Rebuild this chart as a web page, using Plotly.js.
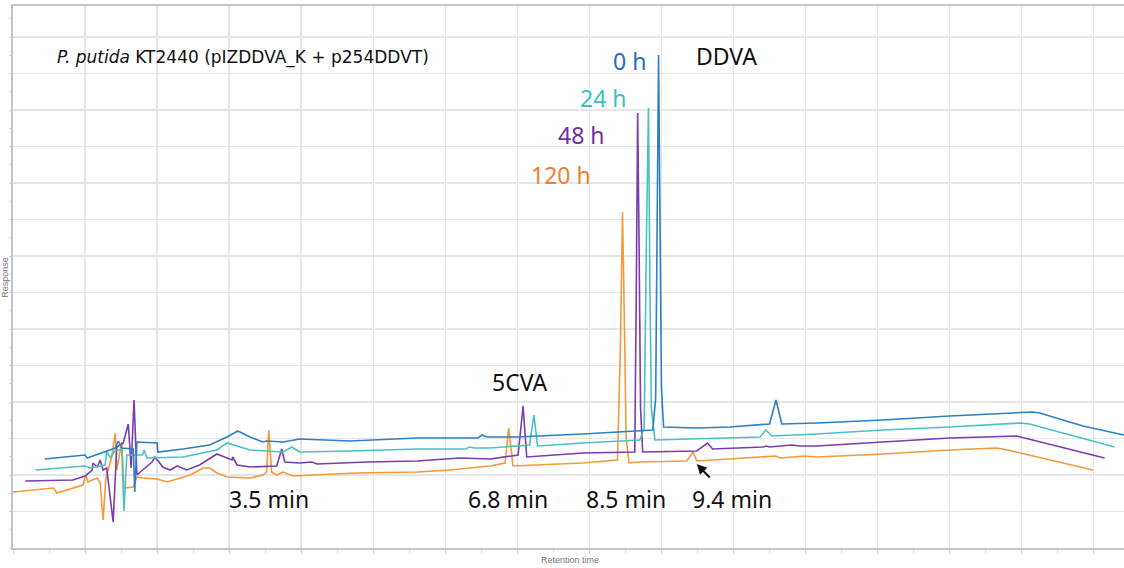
<!DOCTYPE html>
<html>
<head>
<meta charset="utf-8">
<script src="https://cdn.plot.ly/plotly-3.0.1.min.js"></script>
<style>html,body{margin:0;padding:0;background:#fff;}#chart{width:1124px;height:568px;}</style>
</head>
<body>
<div id="chart"></div>
<script>
// Series names (sampling times)
const seriesNames = ['0 h', '24 h', '48 h', '120 h'];

// Retention time (min) and response (a.u.)
const time0h = [0.44,1.00,1.03,1.30,1.42,1.46,1.51,1.67,1.69,1.72,2.00,2.01,2.36,2.73,2.97,3.12,3.29,3.47,3.52,3.75,3.98,4.68,5.61,6.45,6.51,6.58,6.99,7.91,8.88,8.92,8.94,8.96,8.98,9.00,9.03,9.49,9.95,10.50,10.59,10.67,11.16,12.07,13.00,13.93,14.15,14.25,14.85,15.42];
const resp0h = [89,93,90,97,100,107,100,99,56,106,105,96,99,103,111,117,111,106,107,106,109,107,110,110,113,111,111,114,118,150,300,493,330,160,121,120,121,124,148,124,125,128,132,135,136,135,122,113];

const time24h = [0.31,1.00,1.07,1.28,1.30,1.35,1.42,1.51,1.54,1.58,1.80,1.82,1.86,2.36,2.83,2.97,3.29,3.75,3.87,3.98,4.68,5.61,6.28,6.34,6.40,6.62,7.17,7.23,7.28,7.91,8.70,8.76,8.79,8.82,8.84,8.86,8.91,9.49,10.37,10.45,10.53,11.16,12.07,13.00,13.97,14.11,15.29];
const resp24h = [78,82,80,83,97,90,98,98,37,93,93,98,90,91,98,105,98,96,101,96,97,99,99,101,100,100,103,133,102,105,108,120,300,440,260,140,108,109,111,118,112,114,118,121,125,124,101];

const time48h = [0.17,0.83,1.00,1.10,1.11,1.17,1.21,1.25,1.30,1.39,1.44,1.53,1.60,1.64,1.68,1.72,1.80,1.93,1.97,2.04,2.08,2.18,2.28,2.41,2.59,2.83,2.97,3.04,3.05,3.11,3.29,3.66,3.73,3.77,3.98,4.15,4.22,4.91,5.61,6.20,6.62,7.01,7.08,7.13,7.91,8.63,8.65,8.67,8.69,8.71,8.74,9.49,9.64,9.71,10.41,10.46,10.50,10.81,10.92,11.16,12.07,13.00,13.93,15.15];
const resp48h = [67,68,72,78,85,81,88,78,80,26,101,105,124,80,148,73,78,86,91,85,81,78,82,78,83,94,90,88,91,83,81,82,99,86,85,86,84,86,87,90,89,93,142,91,95,96,250,435,300,140,96,97,105,99,101,102,101,103,102,102,106,110,112,90];

const time120h = [0.00,0.56,0.61,0.97,1.01,1.04,1.17,1.21,1.25,1.29,1.37,1.42,1.44,1.51,1.54,1.67,1.72,1.80,2.00,2.14,2.46,2.64,2.73,2.83,2.97,3.29,3.47,3.52,3.55,3.59,3.66,3.75,3.89,4.22,4.77,5.61,6.06,6.62,6.83,6.88,6.94,7.91,8.39,8.43,8.46,8.48,8.51,8.55,8.70,9.35,9.44,9.49,9.95,10.59,10.65,10.99,11.16,12.07,13.00,13.65,13.74,14.99];
const resp120h = [56,60,55,63,73,66,70,65,28,70,91,115,78,106,60,61,71,70,69,66,73,80,80,75,71,70,73,76,118,76,73,76,72,73,75,76,78,82,85,120,82,85,88,200,336,250,110,85,86,87,96,87,89,92,90,92,91,94,98,100,99,78];

const lineColors = ['#2b80c6', '#4ac2c2', '#7a3cae', '#f5993a'];
const seriesTimes = [time0h, time24h, time48h, time120h];
const seriesResp = [resp0h, resp24h, resp48h, resp120h];

const traces = [3, 2, 1, 0].map(i => ({
  type: 'scatter', mode: 'lines', name: seriesNames[i],
  x: seriesTimes[i], y: seriesResp[i],
  line: {color: lineColors[i], width: 1.6},
  hoverinfo: 'skip'
}));

const bigFont = {family: 'Noto Sans, sans-serif', size: 23, color: '#111'};
const ann = [
  {x: 0.58, y: 491, xanchor: 'left', yanchor: 'middle', showarrow: false,
   text: '<i>P. putida</i> KT2440 (pIZDDVA_K + p254DDVT)',
   font: {family: 'DejaVu Sans, sans-serif', size: 17, color: '#111'}},
  {x: 8.82, y: 487, xanchor: 'right', yanchor: 'middle', showarrow: false, text: '0 h', font: Object.assign({}, bigFont, {color: '#1f6fbd'})},
  {x: 9.45, y: 492, xanchor: 'left', yanchor: 'middle', showarrow: false, text: 'DDVA', font: bigFont},
  {x: 8.55, y: 450, xanchor: 'right', yanchor: 'middle', showarrow: false, text: '24 h', font: Object.assign({}, bigFont, {color: '#3fc0c0'})},
  {x: 8.24, y: 413, xanchor: 'right', yanchor: 'middle', showarrow: false, text: '48 h', font: Object.assign({}, bigFont, {color: '#7030a0'})},
  {x: 8.05, y: 373, xanchor: 'right', yanchor: 'middle', showarrow: false, text: '120 h', font: Object.assign({}, bigFont, {color: '#ee7f33'})},
  {x: 7.03, y: 166, xanchor: 'center', yanchor: 'middle', showarrow: false, text: '5CVA', font: bigFont},
  {x: 3.55, y: 49, xanchor: 'center', yanchor: 'middle', showarrow: false, text: '3.5 min', font: bigFont},
  {x: 6.87, y: 49, xanchor: 'center', yanchor: 'middle', showarrow: false, text: '6.8 min', font: bigFont},
  {x: 8.51, y: 49, xanchor: 'center', yanchor: 'middle', showarrow: false, text: '8.5 min', font: bigFont},
  {x: 9.98, y: 49, xanchor: 'center', yanchor: 'middle', showarrow: false, text: '9.4 min', font: bigFont},
  {x: 9.49, y: 84, ax: 9.69, ay: 69, axref: 'x', ayref: 'y', text: '', showarrow: true,
   arrowhead: 2, arrowsize: 1, arrowwidth: 2, arrowcolor: '#111'},
  {xref: 'paper', yref: 'paper', x: 0.501, y: -0.022, xanchor: 'center', yanchor: 'middle', showarrow: false,
   text: 'Retention time', font: {family: 'Liberation Sans, Arial, sans-serif', size: 9, color: '#777'}},
  {xref: 'paper', yref: 'paper', x: -0.0075, y: 0.50, xanchor: 'center', yanchor: 'middle', showarrow: false, textangle: -90,
   text: 'Response', font: {family: 'Liberation Sans, Arial, sans-serif', size: 9, color: '#777'}}
];

const layout = {
  width: 1124, height: 568,
  margin: {l: 13, r: 0, t: 6, b: 20, pad: 0},
  paper_bgcolor: '#fff', plot_bgcolor: '#fff',
  showlegend: false,
  xaxis: {
    range: [0, 15.42], tick0: 0, dtick: 1, showticklabels: false,
    showgrid: true, gridcolor: '#e6e6e9', gridwidth: 1.5, zeroline: false,
    showline: true, linecolor: '#c4c2cc', linewidth: 2, mirror: true,
    ticks: 'outside', ticklen: 4, tickcolor: '#d6d6da', tickwidth: 1,
    minor: {dtick: 0.5, ticks: 'outside', ticklen: 3, tickcolor: '#d6d6da', showgrid: false}
  },
  yaxis: {
    range: [0, 542], tick0: 0, dtick: 36.5, showticklabels: false,
    showgrid: true, gridcolor: '#e6e6e9', gridwidth: 1.5, zeroline: false,
    showline: true, linecolor: '#c4c2cc', linewidth: 2, mirror: false,
    ticks: 'outside', ticklen: 2, tickcolor: '#d6d6da',
    minor: {dtick: 18.25, ticks: 'outside', ticklen: 2, tickcolor: '#d6d6da', showgrid: false}
  },
  annotations: ann
};

Plotly.newPlot('chart', traces, layout, {staticPlot: true, displayModeBar: false});
</script>
</body>
</html>
